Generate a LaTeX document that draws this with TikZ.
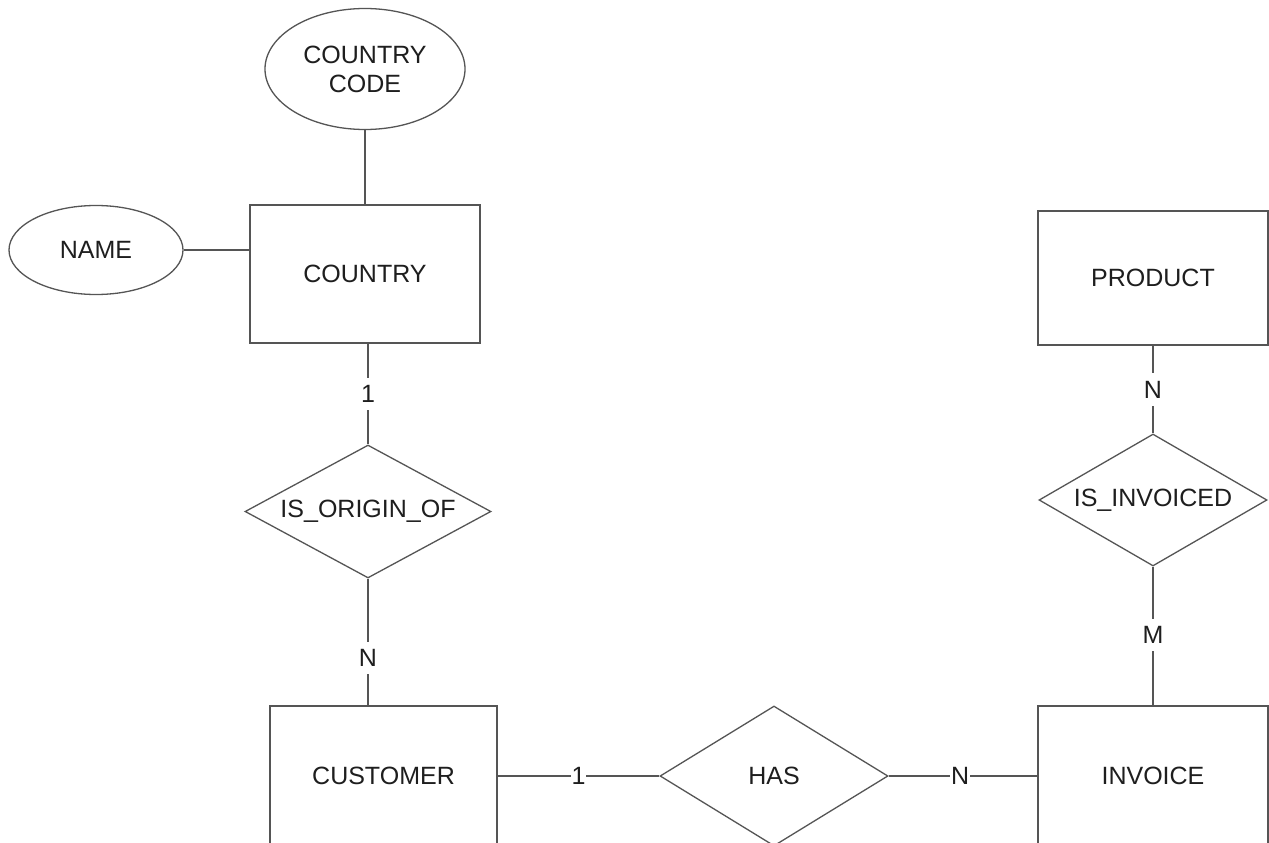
\documentclass[tikz,border=0pt]{standalone}
\usepackage{fontspec}
\setmainfont{Liberation Sans}
\usetikzlibrary{shapes.geometric}
\definecolor{edgegray}{RGB}{85,85,85}
\definecolor{inkc}{RGB}{30,30,30}
\begin{document}
\begin{tikzpicture}[x=1pt,y=-1pt,
  every node/.style={font=\fontsize{25}{29}\selectfont, text=inkc},
  entity/.style={draw=edgegray, line width=1.3pt, rectangle, inner sep=0pt},
  attr/.style={draw=edgegray, line width=1.3pt, ellipse, inner sep=0pt, align=center},
  rel/.style={draw=edgegray, line width=1.3pt, diamond, inner sep=0pt},
  link/.style={draw=edgegray, line width=1.3pt},
  card/.style={fill=white, inner xsep=1pt, inner ysep=7.5pt}
]
\clip (0,0) rectangle (1269,843);
\fill[white] (0,0) rectangle (1269,843);

% attributes
\node[attr, minimum width=200pt, minimum height=121pt] (codeattr) at (365,69) {COUNTRY\\CODE};
\node[attr, minimum width=174pt, minimum height=89pt] (nameattr) at (96,250) {NAME};

% entities
\node[entity, minimum width=230pt, minimum height=138pt] (country) at (365,274) {COUNTRY};
\node[entity, minimum width=227pt, minimum height=140pt] (customer) at (383.5,776) {CUSTOMER};
\node[entity, minimum width=230pt, minimum height=140pt] (invoice) at (1153,776) {INVOICE};
\node[entity, minimum width=230pt, minimum height=134pt] (product) at (1153,278) {PRODUCT};

% relationships
\node[rel, aspect=1.85, minimum width=246pt, minimum height=133pt] (origin) at (368,511.5) {IS\_ORIGIN\_OF};
\node[rel, aspect=1.63, minimum width=228pt, minimum height=140pt] (has) at (774,776) {HAS};
\node[rel, aspect=1.73, minimum width=228pt, minimum height=132pt] (invoiced) at (1153,500) {IS\_INVOICED};

% connectors
\draw[link] (codeattr.south) -- (country.north);
\draw[link] (nameattr.east) -- (nameattr.east -| country.west);
\draw[link] (origin.north |- country.south) -- node[card]{1} (origin.north);
\draw[link] (origin.south) -- node[card, pos=0.625]{N} (origin.south |- customer.north) -- ++(35,0);
\draw[link] (customer.east) -- node[card]{1} (has.west);
\draw[link] (has.east) -- node[card, pos=0.48]{N} (invoice.west);
\draw[link] (product.south) -- node[card]{N} (invoiced.north);
\draw[link] (invoiced.south) -- node[card, pos=0.49]{M} (invoice.north);
\end{tikzpicture}
\end{document}
